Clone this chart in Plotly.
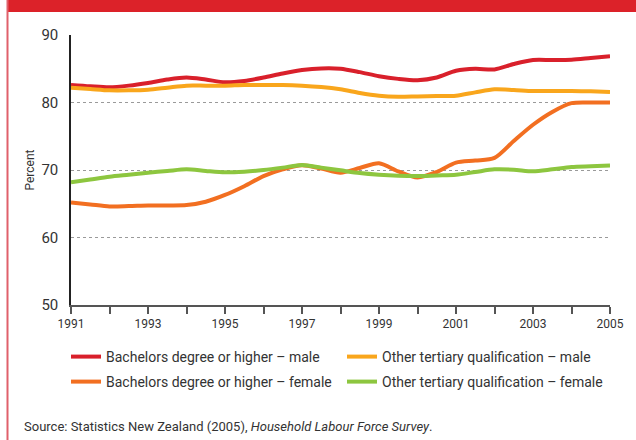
import plotly.graph_objects as go

years = [1991, 1991.5, 1992, 1992.5, 1993, 1993.5, 1994, 1994.5, 1995, 1995.5,
         1996, 1996.5, 1997, 1997.5, 1998, 1998.5, 1999, 1999.5, 2000, 2000.5,
         2001, 2001.5, 2002, 2002.5, 2003, 2003.5, 2004, 2004.5, 2005]

bach_male = [82.6, 82.4, 82.25, 82.5, 82.9, 83.4, 83.7, 83.4, 83.0, 83.2,
             83.7, 84.3, 84.8, 85.05, 85.0, 84.5, 83.9, 83.5, 83.3, 83.7,
             84.7, 85.0, 84.9, 85.7, 86.3, 86.3, 86.35, 86.6, 86.85]
other_male = [82.2, 82.0, 81.8, 81.8, 81.9, 82.2, 82.5, 82.5, 82.5, 82.6,
              82.6, 82.6, 82.5, 82.3, 81.95, 81.4, 81.0, 80.85, 80.9, 80.95,
              81.0, 81.5, 81.95, 81.85, 81.7, 81.7, 81.7, 81.65, 81.55]
bach_female = [65.2, 64.9, 64.6, 64.65, 64.75, 64.75, 64.8, 65.3, 66.3, 67.6,
               69.1, 70.1, 70.7, 70.2, 69.6, 70.3, 71.0, 69.8, 68.9, 69.7,
               71.1, 71.4, 71.8, 74.3, 76.7, 78.6, 79.9, 80.0, 80.0]
other_female = [68.2, 68.6, 69.0, 69.3, 69.6, 69.85, 70.1, 69.85, 69.65, 69.75,
                70.0, 70.35, 70.75, 70.35, 69.95, 69.55, 69.3, 69.15, 69.1, 69.2,
                69.3, 69.7, 70.1, 70.05, 69.8, 70.1, 70.45, 70.55, 70.65]

series_names = ["Bachelors degree or higher \u2013 male",
                "Other tertiary qualification \u2013 male",
                "Bachelors degree or higher \u2013 female",
                "Other tertiary qualification \u2013 female"]
series_values = [bach_male, other_male, bach_female, other_female]
colors = ["#d9202b", "#f9a61c", "#f26f21", "#8dc63f"]
legends = ["legend", "legend2", "legend3", "legend4"]

FONT = "Roboto, Liberation Sans, sans-serif"

fig = go.Figure()
for name, vals, col, lg in zip(series_names, series_values, colors, legends):
    fig.add_trace(go.Scatter(
        x=years, y=vals, name=name, mode="lines",
        line=dict(color=col, width=4, shape="spline", smoothing=0.8),
        legend=lg,
    ))

W, H = 636, 440
L, R, T, B = 71, 26, 35, 135
pw, ph = W - L - R, H - T - B

def px_x(p):
    return (p - L) / pw

def px_y(p):
    return (H - B - p) / ph

legend_common = dict(
    orientation="h", xref="container", yref="container",
    xanchor="left", yanchor="middle",
    font=dict(family=FONT, size=14, color="#333333"),
    bgcolor="rgba(0,0,0,0)", borderwidth=0, itemwidth=30,
)

# legend slots: (left px, centre-y px)
slots = [(66, 357), (342, 357), (66, 382), (342, 382)]
legend_layout = {}
for lg, (lx, ly) in zip(legends, slots):
    legend_layout[lg] = dict(legend_common, x=lx / W, y=1 - ly / H)

fig.update_layout(
    width=W, height=H,
    margin=dict(l=L, r=R, t=T, b=B, pad=0, autoexpand=False),
    paper_bgcolor="white", plot_bgcolor="white",
    font=dict(family=FONT, color="#333333"),
    showlegend=True,
    **legend_layout,
    xaxis=dict(
        range=[1991, 2005], tick0=1991, dtick=2, automargin=False,
        showgrid=False, zeroline=False,
        showline=True, linecolor="#555555", linewidth=1.5,
        ticks="outside", ticklen=7, tickcolor="#555555", tickwidth=1.5,
        minor=dict(dtick=1, tick0=1991, ticks="outside", ticklen=7,
                   tickcolor="#555555", tickwidth=1.5, showgrid=False),
        tickfont=dict(family=FONT, size=12, color="#333333"),
    ),
    yaxis=dict(
        range=[50, 90], tick0=50, dtick=10, automargin=False,
        showgrid=True, gridcolor="#9a9a9a", griddash="dot", gridwidth=1,
        zeroline=False,
        showline=True, linecolor="#222222", linewidth=1.5,
        ticks="", ticklabelstandoff=8,
        tickfont=dict(family=FONT, size=15, color="#333333"),
    ),
    shapes=[
        dict(type="rect", xref="paper", yref="paper",
             x0=px_x(7), x1=px_x(W), y0=px_y(12), y1=px_y(0),
             fillcolor="#dc2229", line=dict(width=0), layer="above"),
        dict(type="line", xref="paper", yref="paper",
             x0=px_x(7.5), x1=px_x(7.5), y0=px_y(H), y1=px_y(0),
             line=dict(color="#e0606b", width=2), layer="above"),
    ],
    annotations=[
        dict(xref="paper", yref="paper", x=px_x(29.5), y=px_y(170),
             xanchor="center", yanchor="middle", showarrow=False,
             textangle=-90, text="Percent",
             font=dict(family=FONT, size=12, color="#333333")),
        dict(xref="paper", yref="paper", x=px_x(22), y=px_y(426),
             xanchor="left", yanchor="middle", showarrow=False,
             text="Source: Statistics New Zealand (2005), <i>Household Labour Force Survey</i>.",
             font=dict(family=FONT, size=13, color="#333333")),
    ],
)

fig.write_html("out.html", config={"displayModeBar": False},
               post_script="document.body.style.margin='0';")
